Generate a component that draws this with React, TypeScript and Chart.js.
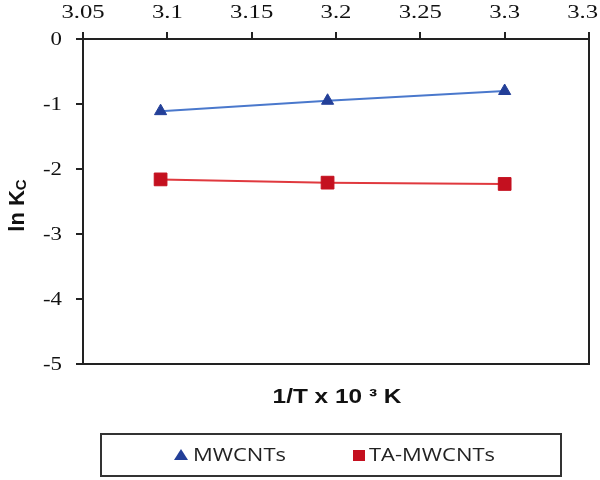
import React, { useEffect, useRef } from "react";
import { Chart, registerables } from "chart.js";

Chart.register(...registerables);

const invT = [3.096, 3.195, 3.3];
const mwcnts = [-1.11, -0.95, -0.8];
const taMwcnts = [-2.16, -2.21, -2.23];
const xTickValues = [3.05, 3.1, 3.15, 3.2, 3.25, 3.3, 3.35];
const xTickLabels = ["3.05", "3.1", "3.15", "3.2", "3.25", "3.3", "3.3"];
const yTickValues = [0, -1, -2, -3, -4, -5];
const yTickLabels = ["0", "-1", "-2", "-3", "-4", "-5"];
const seriesNames = ["MWCNTs", "TA-MWCNTs"];
const xTitle = "1/T x 10 \u00B3 K";
const yTitleMain = "ln K";
const yTitleSub = "C";

const AXIS = "#222222";
const SERIF = "'Liberation Serif', 'Times New Roman', serif";
const SANS = "'Liberation Sans', Arial, sans-serif";

function stretchedText(ctx: any, text: string, x: number, y: number, align: string, sx: number) {
  ctx.save();
  ctx.translate(x, y);
  ctx.scale(sx, 1);
  ctx.textAlign = align;
  ctx.fillText(text, 0, 0);
  ctx.restore();
}

const framePlugin = {
  id: "frameAndLabels",
  afterDraw(chart: any) {
    const ctx = chart.ctx;
    const a = chart.chartArea;
    const xs = chart.scales.x;
    const ys = chart.scales.y;
    ctx.save();
    // right and bottom frame
    ctx.strokeStyle = AXIS;
    ctx.lineWidth = 2;
    ctx.beginPath();
    ctx.moveTo(a.left, a.bottom);
    ctx.lineTo(a.right, a.bottom);
    ctx.lineTo(a.right, a.top);
    ctx.stroke();

    // tick labels (wide, like the stretched original)
    ctx.fillStyle = "#111";
    ctx.font = `19px ${SERIF}`;
    ctx.textBaseline = "middle";
    const sxT = 1.3;
    xTickValues.forEach((v, i) => {
      const w = ctx.measureText(xTickLabels[i]).width * sxT;
      let px = xs.getPixelForValue(v);
      px = Math.min(px, chart.width - 2 - w / 2);
      stretchedText(ctx, xTickLabels[i], px, 13, "center", sxT);
    });
    yTickValues.forEach((v, i) => {
      stretchedText(ctx, yTickLabels[i], 62, ys.getPixelForValue(v) + 1, "right", 1.2);
    });

    // x title (below plot)
    ctx.fillStyle = "#111";
    ctx.font = `bold 20px ${SANS}`;
    ctx.textBaseline = "middle";
    stretchedText(ctx, xTitle, 337, 397, "center", 1.22);

    // y title rotated
    ctx.save();
    ctx.translate(16, (a.top + a.bottom) / 2 + 4);
    ctx.rotate(-Math.PI / 2);
    ctx.font = `bold 22px ${SANS}`;
    const mainW = ctx.measureText(yTitleMain).width;
    ctx.font = `bold 15px ${SANS}`;
    const subW = ctx.measureText(yTitleSub).width;
    const total = mainW + subW;
    ctx.textAlign = "left";
    ctx.textBaseline = "alphabetic";
    ctx.font = `bold 22px ${SANS}`;
    ctx.fillText(yTitleMain, -total / 2, 8);
    ctx.font = `bold 15px ${SANS}`;
    ctx.fillText(yTitleSub, -total / 2 + mainW, 10);
    ctx.restore();

    // legend box
    ctx.strokeStyle = "#333";
    ctx.lineWidth = 2;
    ctx.strokeRect(101, 434, 460, 42);
    const ly = 455;
    const ds = chart.data.datasets;
    // triangle
    ctx.fillStyle = ds[0].pointBackgroundColor;
    ctx.beginPath();
    ctx.moveTo(181, ly - 6);
    ctx.lineTo(188, ly + 5);
    ctx.lineTo(174, ly + 5);
    ctx.closePath();
    ctx.fill();
    // square
    ctx.fillStyle = ds[1].pointBackgroundColor;
    ctx.fillRect(353, ly - 5, 12, 11);
    ctx.fillStyle = "#222";
    ctx.font = "18px 'Open Sans', 'Liberation Sans', sans-serif";
    ctx.textBaseline = "middle";
    stretchedText(ctx, ds[0].label, 193, ly + 1, "left", 1.22);
    stretchedText(ctx, ds[1].label, 369, ly + 1, "left", 1.22);
    ctx.restore();
  },
};

export default function App() {
  const ref = useRef<HTMLCanvasElement | null>(null);
  useEffect(() => {
    if (!ref.current) return;
    const chart = new Chart(ref.current, {
      type: "scatter",
      data: {
        datasets: [
          {
            label: seriesNames[0],
            data: invT.map((x, i) => ({ x, y: mwcnts[i] })),
            showLine: true,
            borderColor: "#4A78CC",
            borderWidth: 2,
            pointStyle: "triangle",
            pointRadius: 7,
            pointBackgroundColor: "#233F98",
            pointBorderColor: "#233F98",
            pointBorderWidth: 1,
          },
          {
            label: seriesNames[1],
            data: invT.map((x, i) => ({ x, y: taMwcnts[i] })),
            showLine: true,
            borderColor: "#E0393E",
            borderWidth: 2,
            pointStyle: "rect",
            pointRadius: 9,
            pointBackgroundColor: "#C4101F",
            pointBorderColor: "#C4101F",
            pointBorderWidth: 1,
          },
        ],
      },
      options: {
        responsive: false,
        animation: false,
        layout: { padding: { left: 0, top: 0, right: 11, bottom: 116 } },
        plugins: {
          legend: { display: false },
          tooltip: { enabled: false },
        },
        scales: {
          x: {
            type: "linear",
            position: "top",
            min: 3.05,
            max: 3.35,
            afterBuildTicks: (scale: any) => {
              scale.ticks = xTickValues.map((v) => ({ value: v }));
            },
            afterFit: (scale: any) => {
              scale.height = 39;
            },
            ticks: { display: false, autoSkip: false },
            grid: {
              drawOnChartArea: false,
              drawTicks: true,
              tickLength: 7,
              color: AXIS,
              lineWidth: 2,
            },
            border: { display: true, color: AXIS, width: 2 },
          },
          y: {
            type: "linear",
            position: "left",
            min: -5,
            max: 0,
            afterBuildTicks: (scale: any) => {
              scale.ticks = yTickValues.map((v) => ({ value: v }));
            },
            afterFit: (scale: any) => {
              scale.width = 83;
            },
            ticks: { display: false, autoSkip: false },
            grid: {
              drawOnChartArea: false,
              drawTicks: true,
              tickLength: 7,
              color: AXIS,
              lineWidth: 2,
            },
            border: { display: true, color: AXIS, width: 2 },
          },
        },
      },
      plugins: [framePlugin],
    });
    return () => chart.destroy();
  }, []);
  return (
    <div style={{ position: "fixed", left: 0, top: 0, width: 600, height: 480, background: "#fff" }}>
      <canvas ref={ref} width={600} height={480} />
    </div>
  );
}
